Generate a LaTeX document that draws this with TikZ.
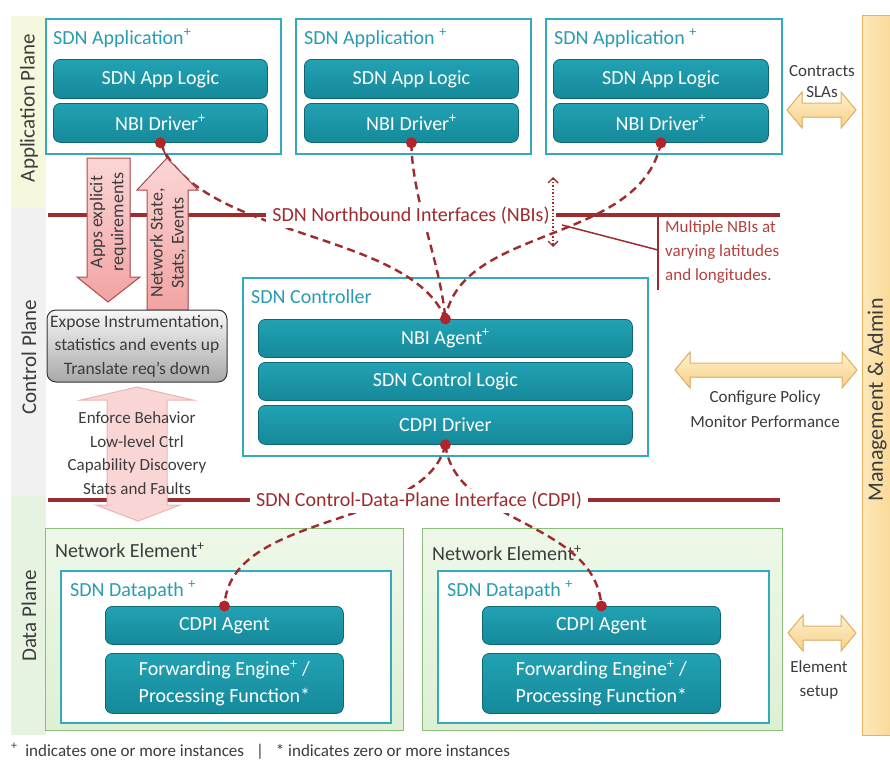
\documentclass[tikz,border=0pt]{standalone}
\usepackage{fontspec}
\setmainfont{Carlito}
\usetikzlibrary{arrows.meta}
\definecolor{tealtop}{HTML}{22A2B3}
\definecolor{tealbot}{HTML}{15899A}
\definecolor{tealdark}{HTML}{0E6774}
\definecolor{tealline}{HTML}{35AABD}
\definecolor{tealtext}{HTML}{2A9CB0}
\definecolor{darkred}{HTML}{9E2B2E}
\definecolor{dotred}{HTML}{B3232A}
\definecolor{calltext}{HTML}{B5413F}
\definecolor{graytext}{HTML}{3C3C3C}
\definecolor{appband}{HTML}{F6F8DE}
\definecolor{ctrlband}{HTML}{F1F1F1}
\definecolor{databand}{HTML}{E7F3E1}
\definecolor{negreenA}{HTML}{EEF8E9}
\definecolor{negreenB}{HTML}{DDF0D3}
\definecolor{negreenline}{HTML}{8CBD78}
\definecolor{pinkA}{HTML}{FBD6D6}
\definecolor{pinkB}{HTML}{F2A3A3}
\definecolor{pinkline}{HTML}{B24A4A}
\definecolor{faintpink}{HTML}{F9D5D5}
\definecolor{faintpinkline}{HTML}{EDB3B3}
\definecolor{orangeA}{HTML}{FFF1CF}
\definecolor{orangeB}{HTML}{F7CF85}
\definecolor{orangeline}{HTML}{E3B062}
\definecolor{mgmtA}{HTML}{FDE8B8}
\definecolor{mgmtB}{HTML}{F9D28A}
\definecolor{mgmtline}{HTML}{E6B15C}
\definecolor{grayA}{HTML}{F7F7F7}
\definecolor{grayB}{HTML}{A8A8A8}
\tikzset{
 outerbox/.style={draw=tealline, line width=2pt, fill=white, anchor=north west, inner sep=0pt},
 tealbox/.style={draw=tealdark, line width=0.8pt, rounded corners=7pt, top color=tealtop, bottom color=tealbot, text=white, font=\fontsize{20}{27}\selectfont, anchor=north west, inner sep=0pt, align=center},
 hdr/.style={text=tealtext, font=\fontsize{20}{24}\selectfont, anchor=west, inner sep=0pt},
 grayhdr/.style={text=graytext, font=\fontsize{20}{24}\selectfont, anchor=west, inner sep=0pt},
 nebox/.style={draw=negreenline, line width=1.2pt, top color=negreenA, bottom color=negreenB, anchor=north west, inner sep=0pt},
 ifline/.style={draw=darkred, line width=4pt},
 iflabel/.style={fill=white, text=darkred, font=\fontsize{20}{24}\selectfont, inner xsep=6pt, inner ysep=3pt},
 dashcurve/.style={draw=darkred, line width=2.4pt, dash pattern=on 8pt off 5pt},
 reddot/.style={fill=dotred},
 pinkarrow/.style={draw=pinkline, line width=1pt, top color=pinkA, bottom color=pinkB},
 lbl/.style={text=graytext, font=\fontsize{17}{23.5}\selectfont, align=center, inner sep=0pt},
 orangearr/.style={draw=orangeline, line width=1pt, top color=orangeA, bottom color=orangeB},
 planelbl/.style={rotate=90, text=graytext, font=\fontsize{21}{25}\selectfont, inner sep=0pt},
 arrowtxt/.style={rotate=90, text=graytext, font=\fontsize{18}{21}\selectfont, align=center, inner sep=0pt},
}
\newcommand{\orangedbl}[3]{%
 \filldraw[orangearr] (#1,#3) -- ++(15,-18) -- ++(0,11) -- ({#2-15},{#3-7}) -- ++(0,-11) -- (#2,#3)
   -- ++(-15,18) -- ++(0,-11) -- ({#1+15},{#3+7}) -- ++(0,11) -- cycle;}
\begin{document}
\begin{tikzpicture}[x=1pt,y=-1pt]
\useasboundingbox (0,0) rectangle (890,761);
\clip (0,0) rectangle (890,761);
\fill[white] (0,0) rectangle (890,761);

% plane bands
\fill[appband] (11,16) rectangle (46,208);
\fill[ctrlband] (11,208) rectangle (46,496);
\fill[databand] (11,496) rectangle (46,735);
\node[planelbl] (plapp) at (29,108) {Application Plane};
\node[planelbl] (plctrl) at (29,357) {Control Plane};
\node[planelbl] (pldata) at (29,616) {Data Plane};

% management bar
\node[draw=mgmtline, line width=1.2pt, left color=mgmtA, right color=mgmtB, anchor=north west, inner sep=0pt,
      minimum width=40pt, minimum height=720pt] (mgmt) at (862,15) {};
\node[planelbl, font=\fontsize{22}{26}\selectfont] (mgmtlbl) at (877,400) {Management \& Admin};

% application boxes
\node[outerbox, minimum width=235pt, minimum height=135pt] (app1) at (45,18) {};
\node[outerbox, minimum width=235pt, minimum height=135pt] (app2) at (295,18) {};
\node[outerbox, minimum width=236pt, minimum height=135pt] (app3) at (545,18) {};
\node[hdr] (app1h) at (53,38) {SDN Application\textsuperscript{+}};
\node[hdr] (app2h) at (304,38) {SDN Application \textsuperscript{+}};
\node[hdr] (app3h) at (554,38) {SDN Application \textsuperscript{+}};
\node[tealbox, minimum width=214pt, minimum height=39pt] (a1logic) at (53,59) {SDN App Logic};
\node[tealbox, minimum width=214pt, minimum height=39pt] (a1drv) at (53,103) {NBI Driver\textsuperscript{+}};
\node[tealbox, minimum width=214pt, minimum height=39pt] (a2logic) at (304,59) {SDN App Logic};
\node[tealbox, minimum width=214pt, minimum height=39pt] (a2drv) at (304,103) {NBI Driver\textsuperscript{+}};
\node[tealbox, minimum width=215pt, minimum height=39pt] (a3logic) at (553,59) {SDN App Logic};
\node[tealbox, minimum width=215pt, minimum height=39pt] (a3drv) at (553,103) {NBI Driver\textsuperscript{+}};

% controller
\node[outerbox, minimum width=405pt, minimum height=178pt] (ctrl) at (242,277) {};
\node[hdr] (ctrlh) at (251,297) {SDN Controller};
\node[tealbox, minimum width=374pt, minimum height=38pt] (nbiag) at (258,319) {NBI Agent\textsuperscript{+}};
\node[tealbox, minimum width=374pt, minimum height=38pt] (ctrllogic) at (258,362) {SDN Control Logic};
\node[tealbox, minimum width=374pt, minimum height=39pt] (cdpidrv) at (258,405) {CDPI Driver};

% network elements
\node[nebox, minimum width=358pt, minimum height=202pt] (ne1) at (45,528) {};
\node[nebox, minimum width=360pt, minimum height=202pt] (ne2) at (422,528) {};
\node[grayhdr] (ne1h) at (55,550) {Network Element\textsuperscript{+}};
\node[grayhdr] (ne2h) at (432,553) {Network Element\textsuperscript{+}};
\node[outerbox, minimum width=330pt, minimum height=152pt] (dp1) at (60,570) {};
\node[outerbox, minimum width=331pt, minimum height=152pt] (dp2) at (437,570) {};
\node[hdr] (dp1h) at (70,590) {SDN Datapath \textsuperscript{+}};
\node[hdr] (dp2h) at (447,590) {SDN Datapath \textsuperscript{+}};
\node[tealbox, minimum width=238pt, minimum height=38pt] (ag1) at (105,606) {CDPI Agent};
\node[tealbox, minimum width=238pt, minimum height=60pt] (fw1) at (105,653) {Forwarding Engine\textsuperscript{+} /\\Processing Function*};
\node[tealbox, minimum width=238pt, minimum height=38pt] (ag2) at (482,606) {CDPI Agent};
\node[tealbox, minimum width=238pt, minimum height=60pt] (fw2) at (482,653) {Forwarding Engine\textsuperscript{+} /\\Processing Function*};

% interface lines
\coordinate (nbiL) at (48,215);
\coordinate (nbiR) at (780,215);
\coordinate (cdpiL) at (48,500);
\coordinate (cdpiR) at (780,500);
\draw[ifline] (nbiL) -- (nbiR);
\draw[ifline] (cdpiL) -- (cdpiR);

% dashed connections
\draw[dashcurve] (a1drv.south) .. controls (200,240) and (410,230) .. (nbiag.north);
\draw[dashcurve] (a2drv.south) .. controls (412,200) and (440,260) .. (nbiag.north);
\draw[dashcurve] (a3drv.south) .. controls (640,245) and (460,225) .. (nbiag.north);
\draw[dashcurve] (cdpidrv.south) .. controls (425,530) and (230,510) .. (ag1.north);
\draw[dashcurve] (cdpidrv.south) .. controls (455,525) and (595,520) .. (ag2.north);

% interface labels
\node[iflabel] (nbilbl) at (411,216) {SDN Northbound Interfaces (NBIs)};
\node[iflabel] (cdpilbl) at (419,501) {SDN Control-Data-Plane Interface (CDPI)};

% dotted double arrow and callout
\coordinate (dvT) at (553,177);
\coordinate (dvB) at (553,247);
\draw[darkred, line width=1.4pt, dotted, {Straight Barb[length=5pt,width=10pt]}-{Straight Barb[length=5pt,width=10pt]}] (dvT) -- (dvB);
\coordinate (callA) at (562,225);
\coordinate (callB) at (658,250);
\coordinate (callT) at (658,213);
\coordinate (callD) at (658,290);
\draw[darkred, line width=1.5pt] (callA) -- (callB);
\draw[darkred, line width=1.5pt] (callT) -- (callD);
\node[anchor=north west, align=left, text=calltext, font=\fontsize{17}{24}\selectfont, inner sep=0pt] (calltxt) at (665,220)
  {Multiple NBIs at\\varying latitudes\\and longitudes.};

% pink arrows
\coordinate (uptip) at (167,158);
\draw[darkred, line width=1.5pt] (a1drv.south) -- (uptip);
\filldraw[pinkarrow] (87,158) -- (130,158) -- (130,277) -- (140,277) -- (108,302) -- (77,277) -- (87,277) -- cycle;
\filldraw[pinkarrow] (147,310) -- (147,190) -- (137,190) -- (uptip) -- (198,190) -- (188,190) -- (188,310) -- cycle;
\node[arrowtxt] (appsreq) at (108,222) {Apps explicit\\requirements};
\node[arrowtxt] (netstate) at (168,243) {Network State,\\Stats, Events};

% enforce arrow
\filldraw[draw=faintpinkline, line width=1pt, fill=faintpink] (137,387) -- (193,400) -- (167,400) -- (167,505) -- (180,505)
  -- (138,521) -- (96,505) -- (107,505) -- (107,400) -- (81,400) -- cycle;
\node[lbl] (enforce) at (137,453) {Enforce Behavior\\Low-level Ctrl\\Capability Discovery\\Stats and Faults};

% gray box
\node[draw=black!80, line width=1pt, rounded corners=9pt, top color=grayA, bottom color=grayB, minimum width=180pt,
      minimum height=72pt, inner sep=0pt, text=graytext, align=center, font=\fontsize{17.5}{23.5}\selectfont] (expose) at (137,346)
  {Expose Instrumentation,\\statistics and events up\\Translate req's down};

% red dots
\fill[reddot] (a1drv.south) circle (5.5pt);
\fill[reddot] (a2drv.south) circle (5.5pt);
\fill[reddot] (a3drv.south) circle (5.5pt);
\fill[reddot] (nbiag.north) circle (5.5pt);
\fill[reddot] (cdpidrv.south) circle (5.5pt);
\fill[reddot] (ag1.north) circle (5.5pt);
\fill[reddot] (ag2.north) circle (5.5pt);

% orange arrows to management
\orangedbl{787}{856}{110}
\orangedbl{675}{857}{370}
\orangedbl{788}{856}{633}
\node[lbl] (contracts) at (822,71) {Contracts};
\node[lbl] (slas) at (822,92) {SLAs};
\node[lbl] (cfgpol) at (765,398) {Configure Policy};
\node[lbl] (monperf) at (765,422) {Monitor Performance};
\node[lbl] (elem) at (819,667) {Element};
\node[lbl] (setup) at (819,692) {setup};

% footnote
\node[anchor=west, inner sep=0pt, text=graytext, font=\fontsize{17}{20}\selectfont] (foot) at (11,751)
  {\textsuperscript{+}\ \ indicates one or more instances\hspace{12pt}|\hspace{12pt}* indicates zero or more instances};
\end{tikzpicture}
\end{document}
